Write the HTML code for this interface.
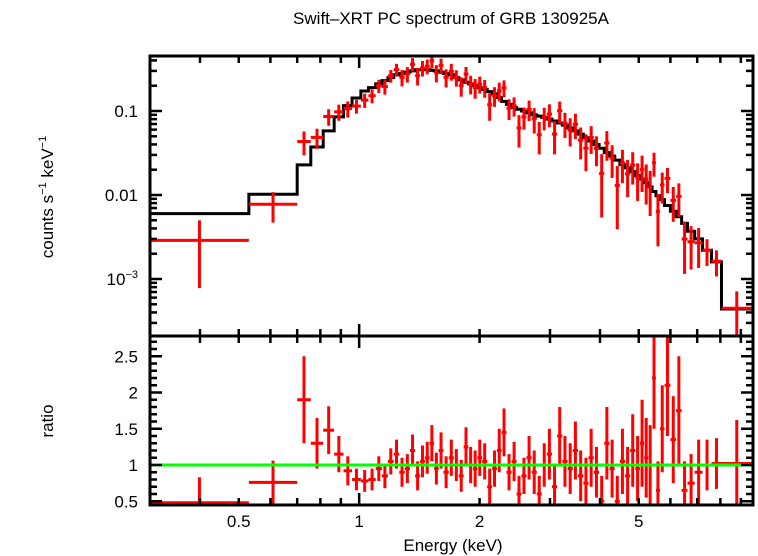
<!DOCTYPE html>
<html><head><meta charset="utf-8"><style>
body{margin:0;background:#fff;}
svg{display:block;font-family:"Liberation Sans",sans-serif;}
</style></head><body>
<svg id="chart" width="758" height="556" viewBox="0 0 758 556">
<text x="451" y="24" font-size="17" text-anchor="middle">Swift–XRT PC spectrum of GRB 130925A</text>
<text transform="translate(53,197) rotate(-90)" font-size="17" text-anchor="middle">counts s<tspan font-size="11" dy="-7">−1</tspan><tspan dy="7"> keV</tspan><tspan font-size="11" dy="-7">−1</tspan></text>
<text transform="translate(53,421) rotate(-90)" font-size="17" text-anchor="middle">ratio</text>
<text x="453" y="551" font-size="17" text-anchor="middle">Energy (keV)</text>
<defs>
<clipPath id="cTop"><rect x="150" y="56" width="603" height="280"/></clipPath>
<clipPath id="cBot"><rect x="150" y="336" width="603" height="169"/></clipPath>
</defs>
<g id="topData" clip-path="url(#cTop)"></g>
<g id="botData" clip-path="url(#cBot)"></g>
<g id="axes"></g>
</svg>
<script>
const edges=[0.30,0.53,0.70,0.757,0.813,0.866,0.914,0.96,1.01,1.055,1.10,1.14,1.18,1.22,1.26,1.30,1.34,1.38,1.42,1.46,1.50,1.54,1.58,1.625,1.675,1.725,1.775,1.825,1.875,1.925,1.975,2.03,2.09,2.15,2.21,2.27,2.335,2.405,2.475,2.545,2.62,2.70,2.78,2.86,2.945,3.035,3.125,3.22,3.32,3.42,3.525,3.635,3.745,3.86,3.98,4.10,4.225,4.355,4.485,4.62,4.76,4.90,5.035,5.16,5.28,5.40,5.52,5.65,5.80,6.00,6.20,6.40,6.62,6.90,7.22,7.60,8.05,9.6];
const model=[0.006,0.0102,0.0228,0.0373,0.058,0.085,0.116,0.143,0.173,0.19,0.21,0.23,0.25,0.27,0.28,0.29,0.30,0.31,0.31,0.31,0.305,0.30,0.29,0.28,0.27,0.25,0.235,0.22,0.21,0.20,0.19,0.18,0.17,0.16,0.145,0.13,0.12,0.11,0.105,0.10,0.095,0.09,0.087,0.084,0.08,0.076,0.072,0.068,0.063,0.058,0.053,0.048,0.044,0.040,0.036,0.032,0.029,0.026,0.023,0.021,0.019,0.017,0.0155,0.014,0.0125,0.011,0.0098,0.0088,0.0075,0.0064,0.0055,0.0046,0.0037,0.0030,0.0022,0.0016,0.00044];
const ratio=[0.48,0.76,1.9,1.3,1.48,1.15,0.92,0.8,0.78,0.8,0.95,0.85,1.05,1.15,0.9,0.95,1.2,0.85,1.05,1.1,1.3,0.95,1.2,0.9,1.1,1.0,0.85,1.25,1.0,0.95,1.1,1.05,0.7,0.95,1.2,1.45,0.9,1.05,0.6,0.85,1.1,0.9,0.6,1.0,1.15,0.7,1.4,1.05,0.95,1.2,0.85,0.75,1.1,0.9,0.5,1.3,0.95,0.5,1.05,0.85,1.2,0.95,1.3,1.1,1.0,2.2,0.65,1.5,2.1,1.35,1.75,0.65,0.75,0.9,1.0,1.02,1.02];
const ratioErr=[0.35,0.3,0.6,0.35,0.33,0.25,0.2,0.15,0.15,0.15,0.17,0.17,0.18,0.2,0.2,0.2,0.22,0.2,0.22,0.22,0.25,0.22,0.25,0.22,0.25,0.22,0.22,0.27,0.25,0.25,0.25,0.25,0.25,0.25,0.3,0.33,0.25,0.27,0.25,0.25,0.3,0.3,0.25,0.3,0.35,0.3,0.4,0.35,0.35,0.4,0.35,0.35,0.4,0.35,0.35,0.5,0.4,0.35,0.45,0.4,0.5,0.45,0.6,0.55,0.55,0.7,0.4,0.6,0.7,0.6,0.75,0.4,0.4,0.45,0.35,0.35,0.6];
const xTickLabels=["0.5","1","2","5"];
const xTickVals=[0.5,1,2,5];
const ratioTickVals=[0.5,1,1.5,2,2.5];

const L=150,R=753,T=56,M=336,B=505;
const X0=Math.log10(0.3),X1=Math.log10(0.3)+(R-L)/400;
const x=e=>L+(Math.log10(e)-X0)/(X1-X0)*(R-L);
const yTop=v=>111-(Math.log10(v)+1)*84;
const yBot=v=>465-(v-1)*72.5;
const NS="http://www.w3.org/2000/svg";
function mk(tag,parent,attrs){const el=document.createElementNS(NS,tag);for(const k in attrs)el.setAttribute(k,attrs[k]);parent.appendChild(el);return el;}
const topG=document.getElementById('topData'),botG=document.getElementById('botData'),ax=document.getElementById('axes');

let d='';
for(let i=0;i<model.length;i++){const a=x(edges[i]),b=x(edges[i+1]),y=yTop(model[i]);d+=(i?'L':'M')+a+','+y+'L'+b+','+y;}
const ml=mk('path',topG,{d:d,fill:'none',stroke:'#000','stroke-width':3});



for(let i=0;i<ratio.length;i++){
  const lo=edges[i],hi=edges[i+1],c=Math.sqrt(lo*hi);
  const cnt=model[i]*ratio[i],ce=model[i]*ratioErr[i];
  const g=mk('g',topG,{stroke:'#f00','stroke-width':3});
  
  
  mk('line',g,{x1:x(lo),x2:x(hi),y1:yTop(cnt),y2:yTop(cnt)});
  mk('line',g,{x1:x(c),x2:x(c),y1:yTop(cnt+ce),y2:yTop(Math.max(cnt-ce,1e-6))});
  const g2=mk('g',botG,{stroke:'#f00','stroke-width':3});
  
  
  mk('line',g2,{x1:x(lo),x2:x(hi),y1:yBot(ratio[i]),y2:yBot(ratio[i])});
  mk('line',g2,{x1:x(c),x2:x(c),y1:yBot(ratio[i]+ratioErr[i]),y2:yBot(ratio[i]-ratioErr[i])});
}
const unity=mk('line',botG,{x1:L,x2:R,y1:yBot(1),y2:yBot(1),stroke:'#0f0','stroke-width':3});



[[T,M],[M,B]].forEach(([a,b],k)=>{const r=mk('rect',ax,{x:L,y:a,width:R-L,height:b-a,fill:'none',stroke:'#000','stroke-width':3});

});
const tk=mk('g',ax,{stroke:'#000','stroke-width':2.5});


for(const dec of [0.1,1]){for(let m=1;m<10;m++){const e=dec*m;if(e<0.3||e>9.6)continue;const len=(m===1)?12:7;const px=x(e);
 [T,M].forEach(yy=>mk('line',tk,{x1:px,x2:px,y1:yy,y2:yy+len}));
 [M,B].forEach(yy=>mk('line',tk,{x1:px,x2:px,y1:yy,y2:yy-len}));}}
for(const dec of [1e-4,1e-3,1e-2,1e-1]){for(let m=1;m<10;m++){const v=dec*m;const py=yTop(v);if(py<T||py>M)continue;const len=m===1?12:7;
 mk('line',tk,{x1:L,x2:L+len,y1:py,y2:py});mk('line',tk,{x1:R,x2:R-len,y1:py,y2:py});}}
for(let v=0.5;v<=2.75;v+=0.1){const py=yBot(v);const maj=Math.abs(v*2-Math.round(v*2))<1e-6;const len=maj?12:7;
 mk('line',tk,{x1:L,x2:L+len,y1:py,y2:py});mk('line',tk,{x1:R,x2:R-len,y1:py,y2:py});}
xTickVals.forEach((v,i)=>{const t=mk('text',ax,{x:x(v),y:527,'font-size':17,'text-anchor':'middle'});t.textContent=xTickLabels[i];

});
ratioTickVals.forEach(v=>{const t=mk('text',ax,{x:138,y:yBot(v)+6,'font-size':17,'text-anchor':'end'});t.textContent=String(v);

});
[[0.1,'0.1'],[0.01,'0.01']].forEach(([v,s])=>{const t=mk('text',ax,{x:138,y:yTop(v)+6,'font-size':17,'text-anchor':'end'});t.textContent=s;

});
const t3=mk('text',ax,{x:138,y:yTop(1e-3)+6,'font-size':17,'text-anchor':'end'});


t3.innerHTML='10<tspan font-size="11" dy="-7">−3</tspan>';
</script>
</body></html>
